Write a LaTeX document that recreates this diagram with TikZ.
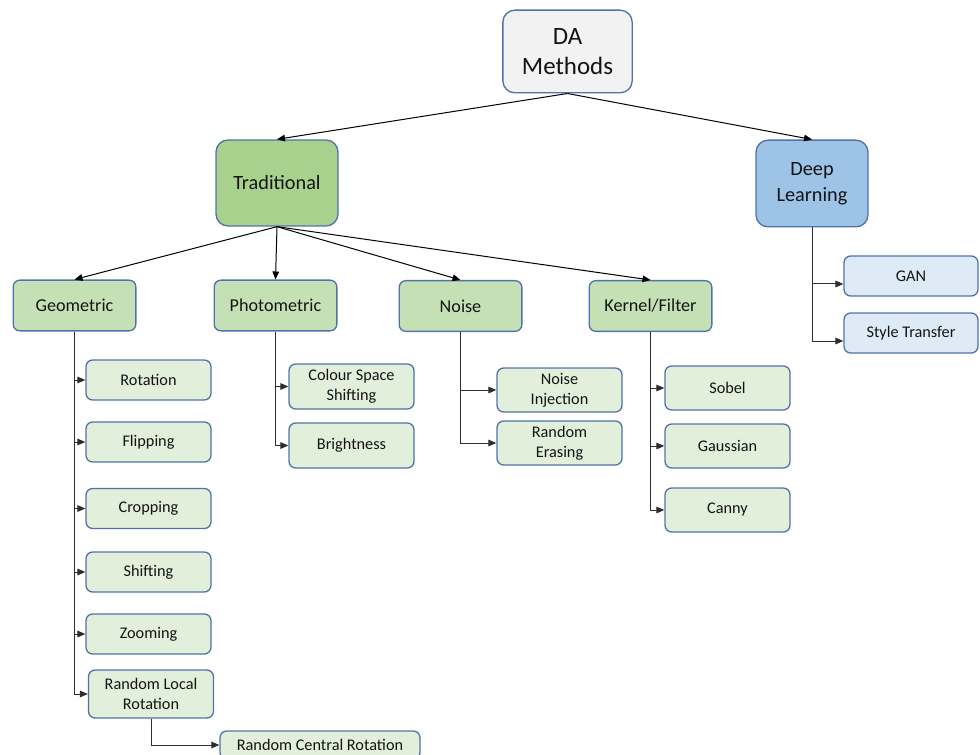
\documentclass[tikz,border=0pt]{standalone}
\usepackage{fontspec}
\setmainfont{Carlito}
\usetikzlibrary{arrows.meta,positioning,calc}
\definecolor{edgeblue}{HTML}{5272AA}
\definecolor{rootgray}{HTML}{F2F2F2}
\definecolor{tradgreen}{HTML}{A9D18E}
\definecolor{catgreen}{HTML}{C5E0B4}
\definecolor{leafgreen}{HTML}{E2EFDA}
\definecolor{deepblue}{HTML}{9DC3E6}
\definecolor{leafblue}{HTML}{DEEBF7}
\definecolor{linkgray}{HTML}{2E2E2E}

\tikzset{
  box/.style={draw=edgeblue,line width=1pt,rounded corners=5pt,align=center,
    inner sep=0pt,text=black!92},
  bigbox/.style={box,rounded corners=9pt,font=\fontsize{15.2}{19.5}\selectfont},
  cat/.style={box,fill=catgreen,minimum width=92pt,minimum height=38pt,
    font=\fontsize{13.6}{16}\selectfont},
  leaf/.style={box,fill=leafgreen,minimum width=93.75pt,minimum height=30pt,
    font=\fontsize{12.2}{15}\selectfont},
  link/.style={-{Triangle[length=6pt,width=5pt]},linkgray,line width=0.75pt},
}

\begin{document}
\begin{tikzpicture}[x=0.75pt,y=-0.75pt]
  \useasboundingbox (0,0) rectangle (980,755);
  % top levels
  \node[bigbox,fill=rootgray,minimum width=97pt,minimum height=62pt,
    font=\fontsize{18.7}{23}\selectfont] (da) at (567.5,51.5) {DA\\Methods};
  \node[bigbox,fill=tradgreen,minimum width=91.5pt,minimum height=64.5pt] (trad) at (277,183) {Traditional};
  \node[bigbox,fill=deepblue,minimum width=84pt,minimum height=65pt] (deep) at (812,183.5) {Deep\\Learning};
  \draw[link,black] (da.south) -- (trad.north);
  \draw[link,black] (da.south) -- (deep.north);
  % categories
  \node[cat] (geo) at (74.5,305.5) {Geometric};
  \node[cat] (photo) at (275.5,305.5) {Photometric};
  \node[cat] (noise) at (460.5,306) {Noise};
  \node[cat] (kern) at (650.5,306) {Kernel/Filter};
  \foreach \c in {geo,photo,noise,kern}
    \draw[link,black] (trad.south) -- (\c.north);
  % deep learning
  \node[box,fill=leafblue,minimum width=100.5pt,minimum height=30pt,
    font=\fontsize{12.2}{15}\selectfont] (gan) at (911,276) {GAN};
  \node[box,fill=leafblue,minimum width=100.5pt,minimum height=30pt,
    font=\fontsize{12.2}{15}\selectfont] (style) at (911,333) {Style Transfer};
  \draw[link] (deep.south) |- ([yshift=-6pt]gan.west);
  \draw[link] (deep.south) |- ([yshift=-6pt]style.west);
  % geometric
  \node[leaf] (rot) at (148.5,380) {Rotation};
  \node[leaf] (flip) at (148.5,442) {Flipping};
  \node[leaf] (crop) at (148.5,508.5) {Cropping};
  \node[leaf] (shift) at (148.5,572) {Shifting};
  \node[leaf] (zoom) at (148.5,634) {Zooming};
  \node[leaf,minimum height=36pt] (rlr) at (151,694) {Random Local\\Rotation};
  \node[leaf,minimum width=150pt,minimum height=21pt] (rcr) at (320,745) {Random Central Rotation};
  \foreach \c in {rot,flip,crop,shift,zoom,rlr}
    \draw[link] (geo.south) |- (\c.west);
  \draw[link] (rlr.south) |- (rcr.west);
  % photometric
  \node[leaf,minimum height=33.75pt] (css) at (351.5,386.5) {Colour Space\\Shifting};
  \node[leaf,minimum height=33.75pt] (bright) at (351.5,445.5) {Brightness};
  \foreach \c in {css,bright}
    \draw[link] (photo.south) |- (\c.west);
  % noise
  \node[leaf,minimum height=33pt] (inj) at (559.5,390) {Noise\\Injection};
  \node[leaf,minimum height=33pt] (erase) at (559.5,443) {Random\\Erasing};
  \foreach \c in {inj,erase}
    \draw[link] (noise.south) |- (\c.west);
  % kernel
  \node[leaf,minimum height=33pt] (sobel) at (727.5,388) {Sobel};
  \node[leaf,minimum height=33pt] (gauss) at (727.5,446) {Gaussian};
  \node[leaf,minimum height=33pt] (canny) at (727.5,510) {Canny};
  \foreach \c in {sobel,gauss,canny}
    \draw[link] (kern.south) |- (\c.west);
\end{tikzpicture}
\end{document}
